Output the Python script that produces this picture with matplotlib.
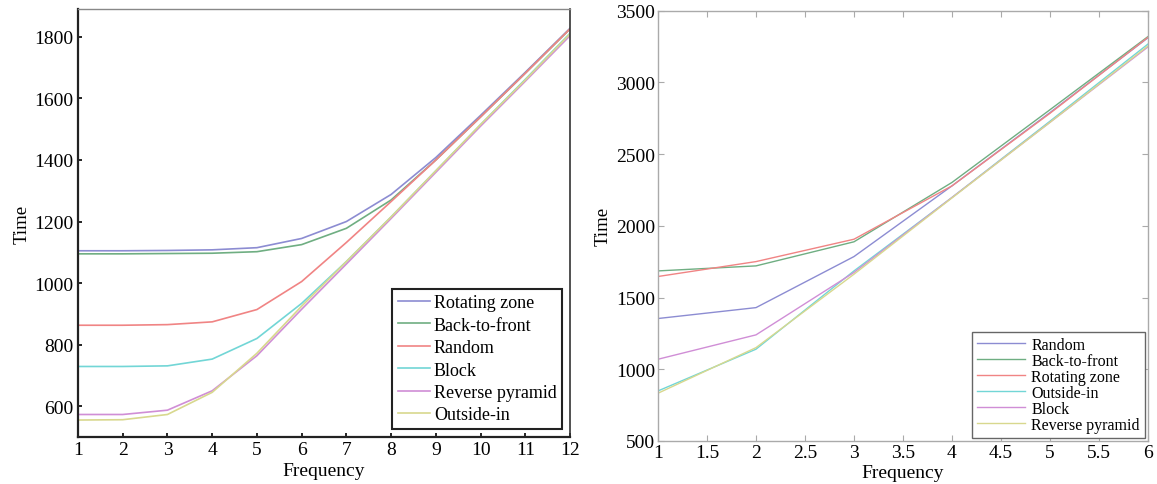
import matplotlib
matplotlib.use("Agg")
import matplotlib.pyplot as plt

plt.rcParams['font.family'] = ['Liberation Serif', 'DejaVu Serif']
plt.rcParams['xtick.direction'] = 'in'
plt.rcParams['ytick.direction'] = 'in'

# left panel: frequency 1..12
freq_a = [1, 2, 3, 4, 5, 6, 7, 8, 9, 10, 11, 12]
rotating_a = [1105, 1105, 1106, 1108, 1115, 1145, 1200, 1288, 1408, 1545, 1685, 1828]
backfront_a = [1095, 1095, 1096, 1097, 1102, 1125, 1178, 1270, 1400, 1540, 1682, 1826]
random_a = [863, 863, 865, 874, 914, 1005, 1132, 1265, 1400, 1540, 1682, 1826]
block_a = [729, 729, 731, 753, 820, 934, 1070, 1215, 1365, 1515, 1662, 1812]
revpyr_a = [573, 573, 587, 650, 764, 915, 1062, 1210, 1360, 1510, 1656, 1804]
outside_a = [555, 556, 573, 645, 772, 925, 1070, 1215, 1365, 1515, 1660, 1810]

# right panel: frequency 1..6
freq_b = [1, 2, 3, 4, 5, 6]
random_b = [1354, 1430, 1786, 2279, 2790, 3312]
backfront_b = [1686, 1721, 1889, 2303, 2810, 3320]
rotating_b = [1647, 1751, 1907, 2279, 2785, 3315]
outside_b = [849, 1140, 1686, 2198, 2730, 3268]
block_b = [1070, 1240, 1675, 2198, 2722, 3248]
revpyr_b = [833, 1151, 1663, 2195, 2722, 3255]

c_blue = '#8c8cd2'
c_green = '#6fae82'
c_red = '#f08484'
c_cyan = '#72d6d6'
c_purple = '#d08ed6'
c_yellow = '#d8d88e'

fig = plt.figure(figsize=(11.57, 4.85), dpi=100)

ax1 = fig.add_axes([0.0674, 0.097, 0.4253, 0.882])
ax1.plot(freq_a, rotating_a, color=c_blue, lw=1.2, label='Rotating zone')
ax1.plot(freq_a, backfront_a, color=c_green, lw=1.2, label='Back-to-front')
ax1.plot(freq_a, random_a, color=c_red, lw=1.2, label='Random')
ax1.plot(freq_a, block_a, color=c_cyan, lw=1.2, label='Block')
ax1.plot(freq_a, revpyr_a, color=c_purple, lw=1.2, label='Reverse pyramid')
ax1.plot(freq_a, outside_a, color=c_yellow, lw=1.2, label='Outside-in')
ax1.set_xlim(1, 12)
ax1.set_ylim(500, 1890)
ax1.set_xticks(freq_a)
ax1.set_yticks([600, 800, 1000, 1200, 1400, 1600, 1800])
ax1.set_xlabel('Frequency', fontsize=14, labelpad=3)
ax1.set_ylabel('Time', fontsize=13.5, labelpad=3)
ax1.tick_params(labelsize=14, length=3, width=1.2, pad=3)
for s in ['left', 'bottom']:
    ax1.spines[s].set_linewidth(1.6)
    ax1.spines[s].set_color('#222222')
ax1.spines['right'].set_linewidth(1.2)
ax1.spines['right'].set_color('#333333')
ax1.spines['top'].set_linewidth(1.0)
ax1.spines['top'].set_color('#888888')
leg1 = ax1.legend(loc='lower right', fontsize=13, handlelength=1.8, handletextpad=0.2,
                  labelspacing=0.3, borderpad=0.3, borderaxespad=0.45, fancybox=False,
                  framealpha=1)
leg1.get_frame().set_edgecolor('#222222')
leg1.get_frame().set_linewidth(1.5)

ax2 = fig.add_axes([0.5687, 0.0887, 0.4235, 0.887])
ax2.plot(freq_b, random_b, color=c_blue, lw=1.0, label='Random')
ax2.plot(freq_b, backfront_b, color=c_green, lw=1.0, label='Back-to-front')
ax2.plot(freq_b, rotating_b, color=c_red, lw=1.0, label='Rotating zone')
ax2.plot(freq_b, outside_b, color=c_cyan, lw=1.0, label='Outside-in')
ax2.plot(freq_b, block_b, color=c_purple, lw=1.0, label='Block')
ax2.plot(freq_b, revpyr_b, color=c_yellow, lw=1.0, label='Reverse pyramid')
ax2.set_xlim(1, 6)
ax2.set_ylim(500, 3500)
ax2.set_xticks([1, 1.5, 2, 2.5, 3, 3.5, 4, 4.5, 5, 5.5, 6])
ax2.set_xticklabels(['1', '1.5', '2', '2.5', '3', '3.5', '4', '4.5', '5', '5.5', '6'])
ax2.set_yticks([500, 1000, 1500, 2000, 2500, 3000, 3500])
ax2.set_xlabel('Frequency', fontsize=14, labelpad=2)
ax2.set_ylabel('Time', fontsize=13.5, labelpad=3)
ax2.tick_params(labelsize=14, length=4, top=True, right=True, color='#aaaaaa', pad=2)
for s in ax2.spines.values():
    s.set_linewidth(1.0)
    s.set_color('#aaaaaa')
leg2 = ax2.legend(loc='lower right', fontsize=11.5, handlelength=3.0, handletextpad=0.4,
                  labelspacing=0.0, borderpad=0.3, borderaxespad=0.2, fancybox=False,
                  framealpha=1)
leg2.get_frame().set_edgecolor('#666666')
leg2.get_frame().set_linewidth(1.0)

fig.savefig('out.png', dpi=100)
